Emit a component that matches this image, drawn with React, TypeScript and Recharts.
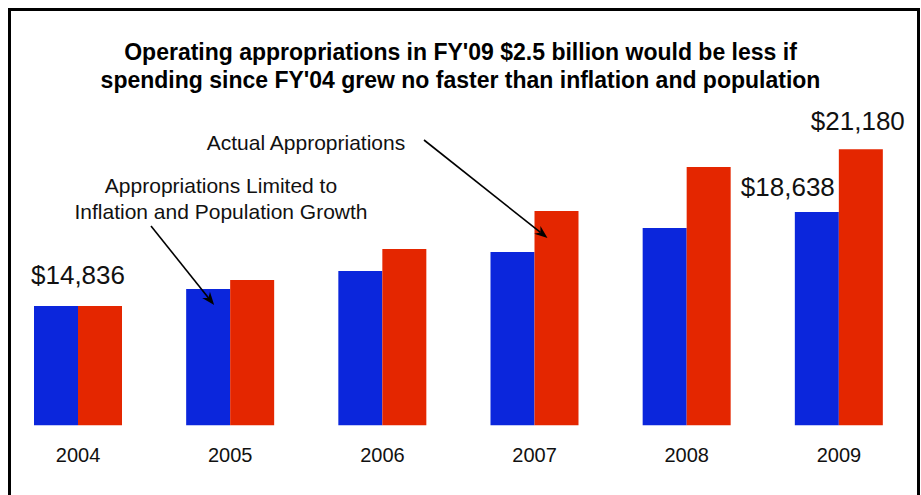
import { BarChart, Bar, XAxis, YAxis } from 'recharts';

const years = ['2004', '2005', '2006', '2007', '2008', '2009'];
const limitedValues = [14836, 15524, 16252, 17021, 17993, 18638];
const actualValues = [14836, 15888, 17143, 18681, 20461, 21180];

const titleLines = [
  "Operating appropriations in FY'09 $2.5 billion would be less if",
  'spending since FY\'04 grew no faster than inflation and population',
];

const data = years.map((year, i) => ({
  year,
  limited: limitedValues[i],
  actual: actualValues[i],
}));

const FONT = '"Liberation Sans", Arial, Helvetica, sans-serif';
const BLUE = '#0b26dc';
const RED = '#e42600';

const money = (v: number) => '$' + v.toLocaleString('en-US');

interface LabelProps {
  x: number;
  y: number;
  width: number;
  index: number;
  value: number;
}

function Arrow({ x1, y1, x2, y2 }: { x1: number; y1: number; x2: number; y2: number }) {
  const ang = Math.atan2(y2 - y1, x2 - x1);
  const len = 13;
  const half = 5;
  const bx = x2 - len * Math.cos(ang);
  const by = y2 - len * Math.sin(ang);
  const nx = x2 - (len - 4) * Math.cos(ang);
  const ny = y2 - (len - 4) * Math.sin(ang);
  const px = -Math.sin(ang) * half;
  const py = Math.cos(ang) * half;
  return (
    <g>
      <line x1={x1} y1={y1} x2={nx} y2={ny} stroke="#000" strokeWidth={1.6} />
      <path
        d={`M${x2},${y2} L${bx + px},${by + py} L${nx},${ny} L${bx - px},${by - py} Z`}
        fill="#000"
      />
    </g>
  );
}

function limitedLabel({ x, y, width, index, value }: LabelProps) {
  if (index === 0) {
    return (
      <text x={x + width} y={y - 22} textAnchor="middle" fontSize={26} fontFamily={FONT} fill="#111">
        {money(value)}
      </text>
    );
  }
  if (index === 1) {
    return (
      <g fontFamily={FONT} fontSize={21} fill="#111">
        <text x={221} y={193} textAnchor="middle">Appropriations Limited to</text>
        <text x={221} y={219} textAnchor="middle">Inflation and Population Growth</text>
        <Arrow x1={151} y1={226} x2={x + 28} y2={y + 16} />
      </g>
    );
  }
  if (index === 5) {
    return (
      <text x={x + width - 4} y={y - 16} textAnchor="end" fontSize={26} fontFamily={FONT} fill="#111">
        {money(value)}
      </text>
    );
  }
  return null;
}

function actualLabel({ x, y, width, index, value }: LabelProps) {
  if (index === 3) {
    return (
      <g fontFamily={FONT} fontSize={21} fill="#111">
        <text x={306} y={150} textAnchor="middle">Actual Appropriations</text>
        <Arrow x1={424} y1={140} x2={x + 13} y2={y + 27} />
      </g>
    );
  }
  if (index === 5) {
    return (
      <text x={x + width / 2 - 3} y={y - 19} textAnchor="middle" fontSize={26} fontFamily={FONT} fill="#111">
        {money(value)}
      </text>
    );
  }
  return null;
}

export default function App() {
  return (
    <div
      style={{
        position: 'absolute',
        left: 0,
        top: 0,
        width: 921,
        height: 495,
        overflow: 'hidden',
        background: '#fff',
      }}
    >
      <div
        style={{
          position: 'absolute',
          left: 8,
          top: 8,
          width: 906,
          height: 520,
          border: '3px solid #000',
        }}
      />
      <div
        style={{
          position: 'absolute',
          left: 0,
          top: 38,
          width: 921,
          textAlign: 'center',
          fontFamily: FONT,
          fontWeight: 'bold',
          fontSize: 23,
          lineHeight: '28px',
          color: '#000',
        }}
      >
        {titleLines.map((t) => (
          <div key={t}>{t}</div>
        ))}
      </div>
      <div style={{ position: 'absolute', left: 0, top: 0 }}>
        <BarChart
          width={921}
          height={495}
          data={data}
          margin={{ top: 129, right: 6, bottom: 29.5, left: 2 }}
          barCategoryGap={32}
          barGap={0}
        >
          <XAxis
            dataKey="year"
            axisLine={false}
            tickLine={false}
            height={40}
            tickMargin={16}
            tick={{ fill: '#111', fontSize: 20, fontFamily: FONT }}
          />
          <YAxis hide domain={[10000, 22000]} allowDataOverflow />
          <Bar dataKey="limited" fill={BLUE} isAnimationActive={false} label={limitedLabel} />
          <Bar dataKey="actual" fill={RED} isAnimationActive={false} label={actualLabel} />
        </BarChart>
      </div>
    </div>
  );
}
